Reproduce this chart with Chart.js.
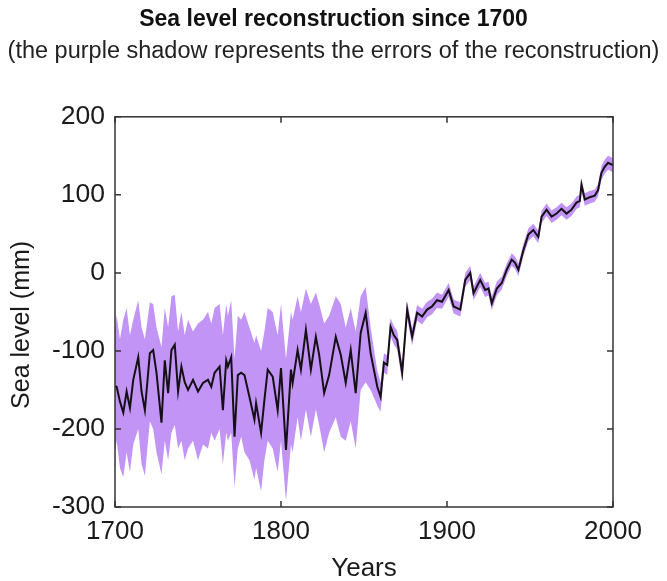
<!DOCTYPE html>
<html>
<head>
<meta charset="utf-8">
<script src="https://cdn.jsdelivr.net/npm/chart.js@4.4.1/dist/chart.umd.min.js"></script>
<style>
html,body{margin:0;padding:0;background:#fff;}
#wrap{width:667px;height:581px;}
</style>
</head>
<body>
<div id="wrap"><canvas id="c" width="667" height="581"></canvas></div>
<script>
// ---- data ----
const years = [1700,1701,1703,1705,1707,1709,1711,1714,1716,1718,1721,1723,1725,1728,1730,1732,1734,1736,1738,1740,1742,1744,1747,1750,1753,1756,1758,1760,1763,1765,1767,1768,1770,1772,1774,1776,1778,1781,1784,1785,1788,1790,1792,1795,1798,1800,1803,1806,1807,1810,1812,1815,1818,1821,1823,1826,1829,1833,1836,1839,1842,1845,1848,1851,1854,1858,1860,1862,1864,1866,1868,1870,1873,1876,1879,1882,1885,1888,1891,1894,1897,1901,1904,1908,1911,1914,1916,1920,1923,1925,1927,1930,1933,1936,1939,1941,1943,1946,1949,1952,1955,1957,1960,1963,1966,1969,1972,1975,1978,1980,1981,1983,1986,1989,1991,1993,1995,1997,2000];
const seaLevel = [-145,-146,-165,-179,-152,-173,-137,-108,-152,-176,-103,-99,-128,-192,-112,-154,-99,-92,-152,-120,-140,-150,-137,-152,-141,-137,-146,-128,-120,-176,-112,-120,-108,-210,-131,-128,-131,-159,-188,-167,-205,-163,-124,-133,-176,-122,-227,-124,-141,-99,-124,-73,-124,-82,-105,-154,-131,-82,-105,-141,-99,-154,-77,-51,-103,-146,-159,-115,-118,-69,-80,-86,-128,-47,-82,-51,-56,-47,-43,-35,-37,-22,-43,-47,-9,0,-26,-9,-22,-20,-39,-20,-13,4,17,13,4,29,49,55,46,72,81,72,76,82,76,81,90,92,113,94,97,99,106,128,136,141,138];
const upperBound = [-70,-55,-85,-60,-45,-80,-60,-35,-70,-85,-38,-40,-70,-95,-45,-70,-30,-28,-75,-50,-80,-60,-75,-65,-60,-50,-65,-45,-40,-80,-40,-55,-35,-110,-55,-60,-50,-70,-90,-80,-100,-75,-45,-50,-80,-40,-110,-50,-60,-30,-50,-20,-40,-25,-40,-65,-55,-30,-40,-70,-45,-75,-30,-18,-70,-125,-140,-103,-106,-58,-68,-74,-116,-36,-71,-41,-46,-37,-33,-25,-28,-13,-34,-38,0,9,-17,0,-13,-11,-30,-11,-5,12,25,21,12,37,57,63,54,80,89,80,84,90,84,89,98,100,121,102,105,107,114,137,145,150,147];
const lowerBound = [-230,-215,-250,-262,-230,-255,-220,-200,-245,-260,-190,-200,-230,-258,-215,-240,-205,-195,-225,-215,-240,-225,-215,-240,-220,-225,-205,-215,-200,-245,-205,-215,-205,-275,-225,-210,-230,-240,-265,-250,-280,-240,-215,-225,-255,-215,-292,-220,-230,-185,-215,-175,-210,-175,-195,-230,-205,-185,-210,-215,-190,-225,-150,-140,-150,-170,-178,-128,-131,-81,-92,-98,-140,-58,-93,-61,-66,-57,-53,-45,-46,-31,-52,-56,-18,-9,-35,-18,-31,-29,-48,-29,-21,-4,9,5,-4,21,41,47,38,64,73,64,68,74,68,73,82,84,105,86,89,91,98,119,127,132,129];
const xTickValues = [1700,1800,1900,2000];
const yTickValues = [200,100,0,-100,-200,-300];
const yAxisTitle = 'Sea level (mm)';

const pts = arr => years.map((yr, i) => ({x: yr, y: arr[i]}));

const FONT = "'Liberation Sans', Arial, sans-serif";

const boxTicks = {
  id: 'boxTicks',
  afterDraw(chart) {
    const {ctx, chartArea: a, scales: {x, y}} = chart;
    ctx.save();
    ctx.strokeStyle = '#333';
    ctx.lineWidth = 1.5;
    ctx.strokeRect(a.left, a.top, a.right - a.left, a.bottom - a.top);
    const L = 6;
    ctx.beginPath();
    xTickValues.forEach(v => {
      const px = x.getPixelForValue(v);
      ctx.moveTo(px, a.bottom); ctx.lineTo(px, a.bottom - L);
      ctx.moveTo(px, a.top); ctx.lineTo(px, a.top + L);
    });
    yTickValues.forEach(v => {
      const py = y.getPixelForValue(v);
      ctx.moveTo(a.left, py); ctx.lineTo(a.left + L, py);
      ctx.moveTo(a.right, py); ctx.lineTo(a.right - L, py);
    });
    ctx.stroke();
    // y axis title (slightly below the plot centre, as in the reference)
    ctx.fillStyle = '#1a1a1a';
    ctx.font = "25px " + FONT;
    ctx.textAlign = 'center';
    ctx.textBaseline = 'middle';
    ctx.translate(22, (a.top + a.bottom) / 2 + 13);
    ctx.rotate(-Math.PI / 2);
    ctx.fillText(yAxisTitle, 0, 0);
    ctx.restore();
  }
};

new Chart(document.getElementById('c'), {
  type: 'line',
  data: {
    datasets: [
      {label: 'Sea level', data: pts(seaLevel), borderColor: '#151015', borderWidth: 2, pointRadius: 0, tension: 0, fill: false},
      {label: 'upper', data: pts(upperBound), borderColor: 'rgba(0,0,0,0)', borderWidth: 0, pointRadius: 0, tension: 0,
       backgroundColor: 'rgba(190,142,244,0.95)', fill: '+1'},
      {label: 'lower', data: pts(lowerBound), borderColor: 'rgba(0,0,0,0)', borderWidth: 0, pointRadius: 0, tension: 0, fill: false}
    ]
  },
  options: {
    responsive: false,
    animation: false,
    layout: {padding: 0},
    plugins: {
      legend: {display: false},
      tooltip: {enabled: false},
      title: {display: true, text: 'Sea level reconstruction since 1700', color: '#111',
        font: {family: FONT, size: 23, weight: 'bold'}, padding: {top: 6, bottom: 4}},
      subtitle: {display: true, text: '(the purple shadow represents the errors of the reconstruction)', color: '#222',
        font: {family: FONT, size: 23.5, weight: 'normal'}, padding: {top: 0, bottom: 51}}
    },
    scales: {
      x: {type: 'linear', min: 1700, max: 2000,
        afterBuildTicks: s => { s.ticks = xTickValues.map(v => ({value: v})); },
        afterFit: s => { s.height = 74; },
        grid: {display: false, drawTicks: false}, border: {display: false},
        ticks: {color: '#1a1a1a', font: {family: FONT, size: 26}, padding: 9, maxRotation: 0, callback: v => String(v)},
        title: {display: true, text: 'Years', color: '#1a1a1a', font: {family: FONT, size: 26}, padding: {top: 0, bottom: -3}}
      },
      y: {type: 'linear', min: -300, max: 200,
        afterBuildTicks: s => { s.ticks = yTickValues.map(v => ({value: v})); },
        afterFit: s => { s.width = 115; },
        grid: {display: false, drawTicks: false}, border: {display: false},
        ticks: {color: '#1a1a1a', font: {family: FONT, size: 26.5}, padding: 10, callback: v => String(v)}
      },
      yRight: {type: 'linear', position: 'right', min: -300, max: 200,
        afterFit: s => { s.width = 54; },
        grid: {display: false, drawTicks: false}, border: {display: false},
        ticks: {display: false}
      }
    }
  },
  plugins: [boxTicks]
});
</script>
</body>
</html>
